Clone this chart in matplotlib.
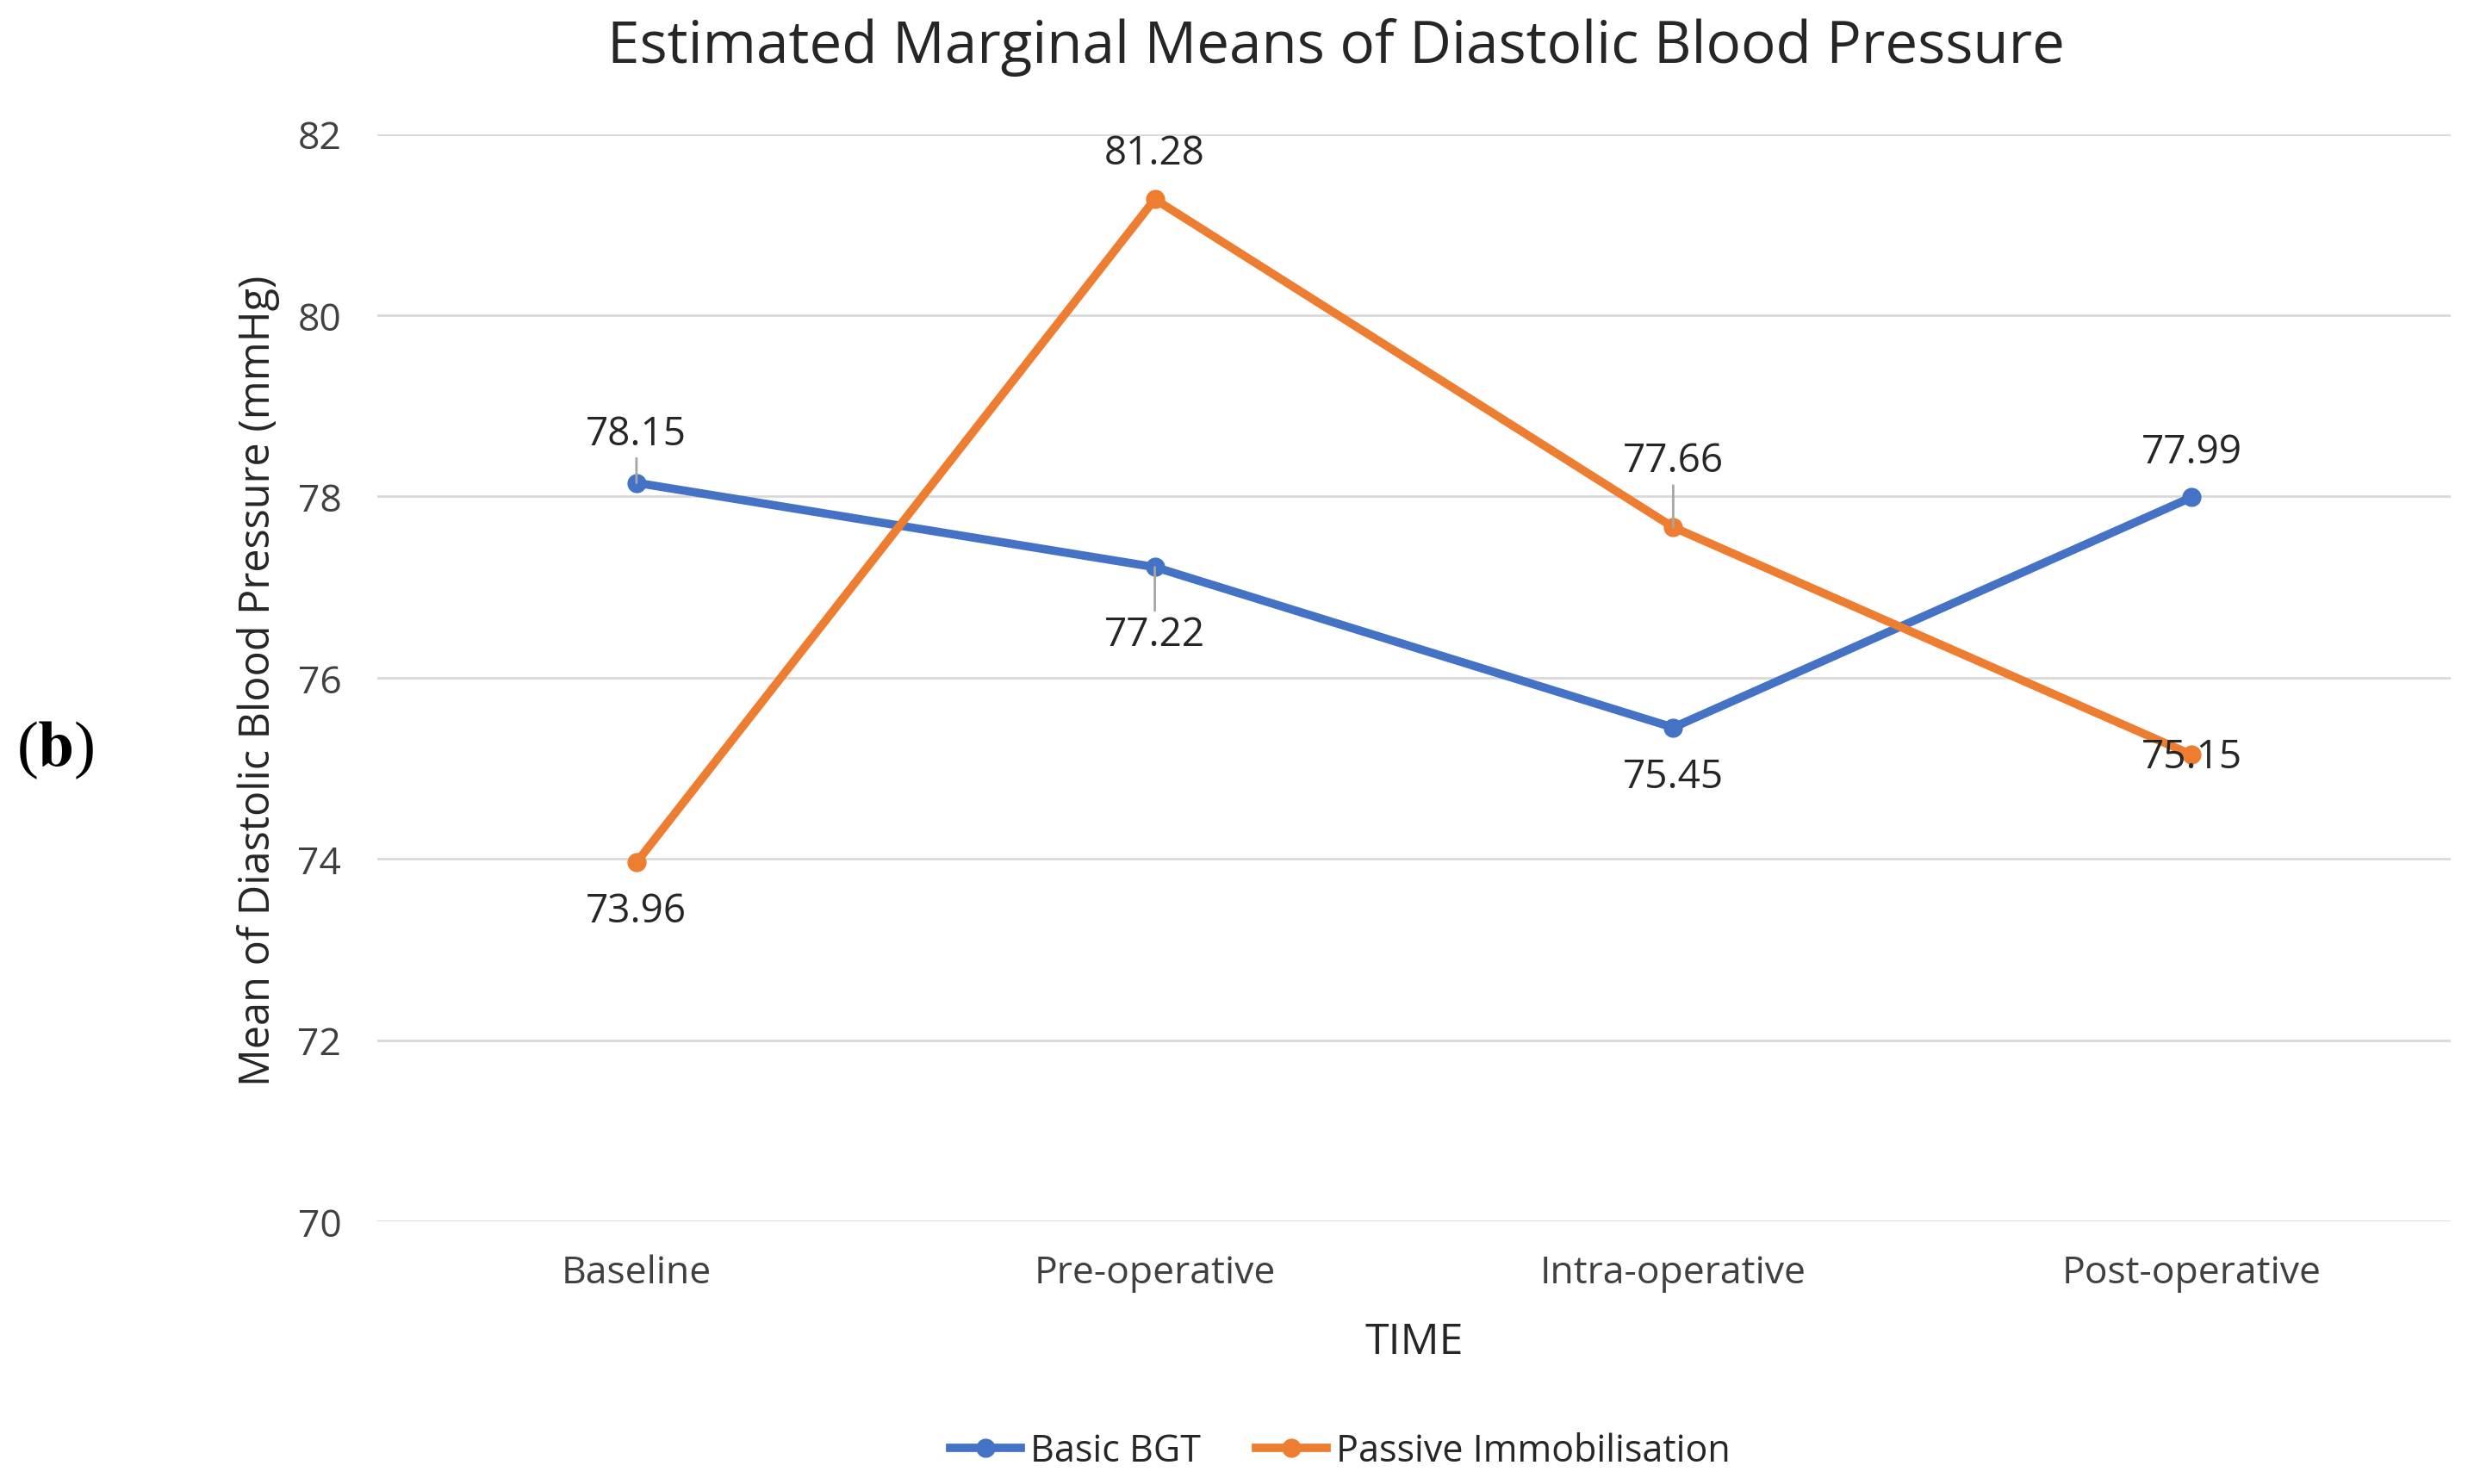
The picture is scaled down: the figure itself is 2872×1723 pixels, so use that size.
import matplotlib
matplotlib.use("Agg")
import matplotlib.pyplot as plt
from matplotlib.lines import Line2D

# ---- data ----
categories = ["Baseline", "Pre-operative", "Intra-operative", "Post-operative"]
basic_bgt = [78.15, 77.22, 75.45, 77.99]
passive_imm = [73.96, 81.28, 77.66, 75.15]
series_names = ["Basic BGT", "Passive Immobilisation"]
y_ticks = [70, 72, 74, 76, 78, 80, 82]

# label offsets in pixels (dx, dy) and whether a leader line is drawn
basic_offsets = [(0, 57), (0, -79), (0, -57), (0, 52)]
basic_leader = [True, True, False, False]
passive_offsets = [(0, -57), (0, 53), (0, 77), (0, -3)]
passive_leader = [False, False, True, False]

BLUE = "#4472C4"
ORANGE = "#ED7D31"
FONT = ["Open Sans", "DejaVu Sans"]

plt.rcParams["font.family"] = FONT
plt.rcParams["mathtext.fontset"] = "stix"

fig = plt.figure(figsize=(28.72, 17.24), dpi=100)
ax = fig.add_axes([0.1525, 0.1769, 0.9906 - 0.1525, 0.9092 - 0.1769])

x = list(range(len(categories)))
LW, MS = 7, 15
ax.plot(x, basic_bgt, color=BLUE, lw=LW, marker="o", ms=MS, zorder=3,
        solid_capstyle="round", solid_joinstyle="round")
ax.plot(x, passive_imm, color=ORANGE, lw=LW, marker="o", ms=MS, zorder=3,
        solid_capstyle="round", solid_joinstyle="round")

ax.set_xlim(-0.5, len(categories) - 0.5)
ax.set_ylim(y_ticks[0], y_ticks[-1])
ax.set_yticks(y_ticks)
ax.set_yticklabels([str(t) for t in y_ticks])
ax.set_xticks(x)
ax.set_xticklabels(categories)

ax.grid(axis="y", color="#D9D9D9", lw=2.0)
ax.set_axisbelow(True)
for s in ax.spines.values():
    s.set_visible(False)
ax.tick_params(axis="both", length=0, labelsize=32, labelcolor="#404040")
ax.tick_params(axis="x", pad=27)
ax.tick_params(axis="y", pad=30)


def add_labels(vals, offsets, leaders):
    for xi, v, (dx, dy), lead in zip(x, vals, offsets, leaders):
        kw = {}
        if lead:
            kw["arrowprops"] = dict(arrowstyle="-", color="#A6A6A6", lw=2,
                                    shrinkA=2, shrinkB=0)
        ax.annotate(f"{v:.2f}", xy=(xi, v), xytext=(dx, dy),
                    textcoords="offset pixels", ha="center", va="center",
                    fontsize=33, color="#262626", zorder=4, **kw)


add_labels(basic_bgt, basic_offsets, basic_leader)
add_labels(passive_imm, passive_offsets, passive_leader)

# titles
fig.text(0.540, 1 - 55 / 1724, "Estimated Marginal Means of Diastolic Blood Pressure",
         ha="center", va="center", fontsize=48.5, color="#262626")
fig.text(300 / 2872, 1 - 790 / 1724, "Mean of Diastolic Blood Pressure (mmHg)",
         ha="center", va="center", rotation=90, fontsize=35, color="#262626")
fig.text(1642 / 2872, 1 - 1559 / 1724, "TIME", ha="center", va="center",
         fontsize=36, color="#262626")

# panel label
fig.text(64 / 2872, 1 - 871 / 1724, r"($\mathbf{b}$)", ha="center", va="center",
         fontsize=54, family=["Liberation Serif", "DejaVu Serif"], color="black")

handles = [Line2D([], [], color=BLUE, lw=LW, marker="o", ms=MS),
           Line2D([], [], color=ORANGE, lw=LW, marker="o", ms=MS)]
fig.legend(handles, series_names, loc="center", bbox_to_anchor=(0.5418, 0.022),
           ncol=2, frameon=False, fontsize=31, handlelength=1.9,
           handletextpad=0.25, columnspacing=1.5, labelcolor="#262626")

fig.savefig("out.png", dpi=100, facecolor="white")
